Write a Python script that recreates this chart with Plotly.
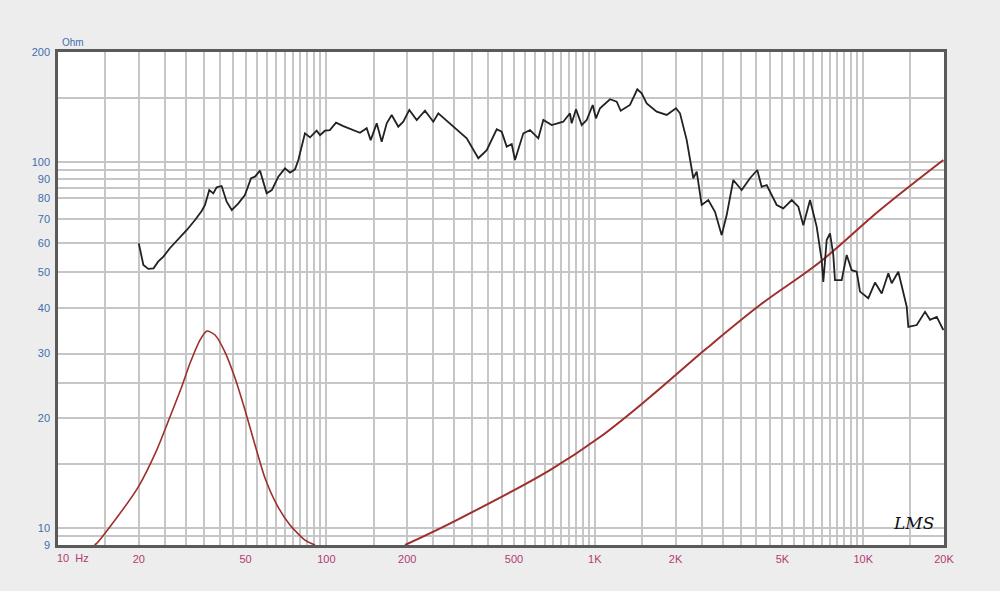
import plotly.graph_objects as go

# Impedance curve (black)
imp_freq = [20, 20.8, 21.7, 22.7, 23.6, 24.7, 26.1, 28.1, 30.2, 32.4, 34.3, 35.3, 36.6, 37.9, 39.0, 40.7,
            42.5, 44.4, 47.0, 49.7, 52.4, 54.2, 56.6, 59.9, 62.6, 66.2, 70.1, 73.2, 76.4, 78.6, 81.6, 83.2,
            86.9, 92.0, 94.7, 98.8, 103, 108.6, 115.6, 126, 133.4, 141.3, 146.2, 154, 160.7, 167.8, 175.1,
            185.3, 193.4, 203.7, 217, 233, 250.2, 261.2, 333.3, 368.1, 395.7, 431.1, 449.9, 469.6, 490.2,
            504.3, 541.6, 573.7, 615.9, 642.9, 691, 763.1, 808.3, 820, 851.1, 893.8, 933, 982.2, 1010,
            1045.7, 1139.3, 1206.8, 1249, 1352, 1440, 1495, 1561, 1701, 1853, 2007, 2077, 2200, 2328, 2397,
            2502, 2648, 2804, 2970, 3100, 3281, 3526, 3786, 4030, 4185, 4370, 4761, 5039, 5416, 5731, 5982,
            6337, 6711, 7004, 7101, 7311, 7521, 7737, 7850, 8315, 8680, 9060, 9458, 9730, 10447, 11066,
            11720, 12404, 12771, 13515, 14526, 14728, 15828, 16997, 17742, 18790, 19887]
imp_ohm = [60.0, 52.4, 51.1, 51.3, 53.5, 55.2, 58.2, 61.6, 65.3, 69.5, 73.6, 76.4, 83.9, 82.2, 85.4, 86.1,
           78.0, 74.0, 77.2, 81.3, 90.4, 91.3, 94.8, 82.2, 83.9, 91.3, 96.2, 93.6, 95.6, 101.4, 113.8, 119.9,
           116.9, 121.9, 118.6, 121.9, 122.4, 128.2, 125.5, 122.4, 120.3, 123.8, 114.9, 127.7, 113.8, 127.7,
           134.6, 125, 129, 138.9, 130.4, 138.2, 129, 136, 116.2, 102.5, 107.9, 123, 121.1, 110.3, 112.1,
           101.4, 119.9, 122.4, 116.2, 130.4, 126.3, 129, 136, 127.7, 139.5, 126.3, 130.4, 143.3, 131.8,
           140.4, 148.6, 146.3, 138.2, 143.3, 158.2, 154.2, 144.8, 137.4, 134.6, 140.4, 136, 114.9, 90.4,
           94.2, 76.4, 78.8, 73.2, 63.2, 71.7, 89.4, 83.9, 90.4, 95.2, 85.7, 86.6, 76.4, 74.8, 78.8, 75.6,
           67.3, 78.8, 66.6, 54.0, 47.1, 61.3, 63.9, 55.8, 47.6, 47.6, 55.8, 50.7, 50.2, 44.3, 42.5, 46.9,
           43.8, 49.7, 46.7, 50.2, 40.3, 35.5, 35.9, 39.0, 37.1, 37.8, 34.8]

# Red resonance hump
hump_freq = [13.68, 13.94, 15.62, 19.92, 23.32, 26.14, 28.90, 31.03, 33.81, 35.9, 38.46, 41.9, 45.66,
             49.74, 54.2, 59.04, 65.46, 73.17, 83.23, 90.7]
hump_ohm = [9.0, 9.09, 10.09, 12.98, 16.35, 20.16, 24.35, 28.22, 32.67, 34.57, 33.72, 30.29, 25.72,
            21.03, 16.88, 13.72, 11.57, 10.20, 9.28, 9.0]

# Red rising curve
rise_freq = [196.3, 305.9, 680.8, 1045.7, 1606, 2612, 4125, 6902, 11547, 19887]
rise_ohm = [9.0, 10.53, 14.42, 17.75, 22.83, 31.01, 40.71, 53.36, 74.02, 101.4]

x_tick_vals = [20, 50, 100, 200, 500, 1000, 2000, 5000, 10000, 20000]
x_tick_text = ["20", "50", "100", "200", "500", "1K", "2K", "5K", "10K", "20K"]
x_minor = ([10 + 5 * i for i in range(19)] + [100 + 50 * i for i in range(19)]
           + [1000 + 500 * i for i in range(19)] + [15000])
y_tick_vals = [9, 10, 20, 30, 40, 50, 60, 70, 80, 90, 100, 200]
y_tick_text = ["9", "10", "20", "30", "40", "50", "60", "70", "80", "90", "100", "200"]
y_minor = [9.5, 15, 25, 85, 95, 150]

RED = "#9e2f2c"
GRID = "#c6c6c6"
XLAB = "#b23a72"
YLAB = "#3f6fad"
BG = "#ededed"

fig = go.Figure()
fig.add_trace(go.Scatter(x=hump_freq, y=hump_ohm, mode="lines",
                         line=dict(color=RED, width=1.6, shape="spline", smoothing=0.6)))
fig.add_trace(go.Scatter(x=rise_freq, y=rise_ohm, mode="lines",
                         line=dict(color=RED, width=2, shape="spline", smoothing=1.0)))
fig.add_trace(go.Scatter(x=imp_freq, y=imp_ohm, mode="lines",
                         line=dict(color="#222222", width=1.8)))

fig.update_layout(
    width=1000, height=591,
    margin=dict(l=58, r=56, t=52, b=46),
    paper_bgcolor=BG, plot_bgcolor="#ffffff",
    showlegend=False,
    font=dict(family="Liberation Sans, Arial, sans-serif", size=11),
)
fig.update_xaxes(
    type="log", range=[1, 4.30103],
    tickmode="array", tickvals=x_tick_vals, ticktext=x_tick_text,
    tickfont=dict(color=XLAB, size=11), ticks="", ticklabelstandoff=2,
    showgrid=True, gridcolor=GRID, gridwidth=1.5,
    minor=dict(tickmode="array", tickvals=x_minor, showgrid=True, gridcolor=GRID, gridwidth=1.5),
    showline=True, linecolor="#5a5a5a", linewidth=2.5, mirror=True, zeroline=False,
)
fig.update_yaxes(
    type="log", range=[0.954243, 2.30103],
    tickmode="array", tickvals=y_tick_vals, ticktext=y_tick_text,
    tickfont=dict(color=YLAB, size=11), ticks="", ticklabelstandoff=3,
    showgrid=True, gridcolor=GRID, gridwidth=1.5,
    minor=dict(tickmode="array", tickvals=y_minor, showgrid=True, gridcolor=GRID, gridwidth=1.5),
    showline=True, linecolor="#5a5a5a", linewidth=2.5, mirror=True, zeroline=False,
)
fig.add_annotation(text="10  Hz", xref="paper", yref="paper", x=0, y=0, xshift=-3, yshift=-5,
                   xanchor="left", yanchor="top", showarrow=False,
                   font=dict(color=XLAB, size=11))
fig.add_annotation(text="Ohm", xref="paper", yref="paper", x=0, y=1, xshift=2, yshift=2,
                   xanchor="left", yanchor="bottom", showarrow=False,
                   font=dict(color=YLAB, size=10))
fig.add_annotation(text="<i>LMS</i>", xref="paper", yref="paper", x=0.966, y=0.045,
                   xanchor="center", yanchor="middle", showarrow=False,
                   font=dict(color="#111111", size=17, family="DejaVu Serif, serif"))

fig.write_html(
    "out.html",
    config={"displayModeBar": False},
    post_script=("document.body.style.margin='0';document.body.style.padding='0';"
                 "document.body.style.overflow='hidden';document.body.style.background='" + BG + "';"),
)
